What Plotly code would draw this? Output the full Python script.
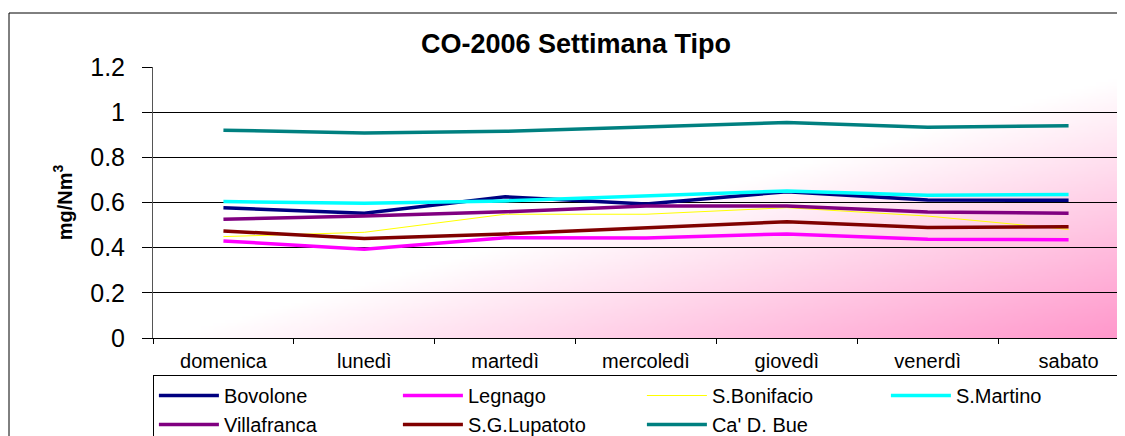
import base64, struct, zlib
import plotly.graph_objects as go

days = ["domenica", "lunedì", "martedì", "mercoledì", "giovedì", "venerdì", "sabato"]
bovolone = [0.577, 0.552, 0.625, 0.593, 0.648, 0.611, 0.610]
legnago = [0.430, 0.393, 0.444, 0.443, 0.461, 0.437, 0.435]
s_bonifacio = [0.449, 0.468, 0.548, 0.548, 0.577, 0.540, 0.481]
s_martino = [0.604, 0.597, 0.607, 0.630, 0.651, 0.632, 0.635]
villafranca = [0.526, 0.540, 0.559, 0.585, 0.585, 0.558, 0.552]
s_g_lupatoto = [0.474, 0.441, 0.461, 0.489, 0.515, 0.489, 0.493]
ca_d_bue = [0.920, 0.908, 0.915, 0.933, 0.954, 0.933, 0.940]

series = [
    ("Bovolone", bovolone, "#000080", 3.5),
    ("Legnago", legnago, "#FF00FF", 3.5),
    ("S.Bonifacio", s_bonifacio, "#FFFF00", 1),
    ("S.Martino", s_martino, "#00FFFF", 3.5),
    ("Villafranca", villafranca, "#800080", 3.5),
    ("S.G.Lupatoto", s_g_lupatoto, "#800000", 3.5),
    ("Ca' D. Bue", ca_d_bue, "#008080", 3.5),
]


def gradient_png(w=240, h=80):
    pink = (255, 153, 204)
    rows = []
    for j in range(h):
        v = j / (h - 1)
        row = bytearray([0])
        for i in range(w):
            u = i / (w - 1)
            t = max(0.0, min(1.0, (u + v - 1.02) / 0.95))
            r = round(255 + (pink[0] - 255) * t)
            g = round(255 + (pink[1] - 255) * t)
            b = round(255 + (pink[2] - 255) * t)
            row += bytes((r, g, b))
        rows.append(bytes(row))
    raw = b"".join(rows)

    def chunk(tag, data):
        c = struct.pack(">I", len(data)) + tag + data
        return c + struct.pack(">I", zlib.crc32(tag + data) & 0xFFFFFFFF)

    png = b"\x89PNG\r\n\x1a\n"
    png += chunk(b"IHDR", struct.pack(">IIBBBBB", w, h, 8, 2, 0, 0, 0))
    png += chunk(b"IDAT", zlib.compress(raw, 9))
    png += chunk(b"IEND", b"")
    return "data:image/png;base64," + base64.b64encode(png).decode()


fig = go.Figure()
for name, vals, color, width in series:
    fig.add_trace(go.Scatter(
        x=days, y=vals, name=name, mode="lines",
        line=dict(color=color, width=width),
    ))

# the page body adds an 8px offset; the figure is sized to fill the window
OFF = 8
W, H = 1125 - OFF, 436 - OFF
ml, mt = 153 - OFF, 67 - OFF
plot_bottom = 338 - OFF
mb = H - plot_bottom
pw = W - ml
ph = plot_bottom - mt
full_w = 986  # plot area extends beyond the cropped picture

fig.update_layout(
    width=W, height=H,
    margin=dict(l=ml, r=0, t=mt, b=mb, autoexpand=False),
    paper_bgcolor="white",
    plot_bgcolor="white",
    font=dict(family="Arial, Liberation Sans, sans-serif", color="black"),
    title=dict(
        text="<b>CO-2006 Settimana Tipo</b>",
        font=dict(size=27, color="black"),
        x=(576 - OFF) / W, xanchor="center",
        y=1 - (44 - OFF) / H, yanchor="middle",
    ),
    showlegend=True,
    legend=dict(
        orientation="h",
        x=-0.0001, xanchor="left",
        y=(338 - 375) / ph, yanchor="top",
        bgcolor="white",
        bordercolor="black", borderwidth=1,
        font=dict(size=20, color="black"),
        itemwidth=60,
        entrywidth=169, entrywidthmode="pixels",
        traceorder="normal",
        tracegroupgap=0,
    ),
    images=[dict(
        source=gradient_png(),
        xref="paper", yref="paper",
        x=0, y=1, sizex=full_w / pw, sizey=1,
        xanchor="left", yanchor="top",
        sizing="stretch", layer="below",
    )],
    shapes=[dict(
        type="rect", xref="paper", yref="paper",
        x0=(9 - 153) / pw, x1=1.2,
        y0=-0.6, y1=(338 - 13) / ph,
        line=dict(color="black", width=1),
        fillcolor="rgba(0,0,0,0)", layer="below",
    )],
)

fig.update_xaxes(
    type="category",
    range=[-0.5, -0.5 + 7 * pw / full_w],
    showgrid=False,
    showline=True, linecolor="black", linewidth=1,
    ticks="outside", tickson="boundaries", ticklen=5, tickcolor="black",
    tickfont=dict(size=20, color="black"),
    ticklabelstandoff=5,
)
fig.update_yaxes(
    range=[0, 1.2],
    tickvals=[0, 0.2, 0.4, 0.6, 0.8, 1, 1.2],
    ticktext=["0", "0.2", "0.4", "0.6", "0.8", "1", "1.2"],
    showgrid=True, gridcolor="black", gridwidth=1,
    showline=True, linecolor="#555555", linewidth=1,
    ticks="outside", ticklen=10, tickcolor="black",
    tickfont=dict(size=25, color="black"),
    ticklabelstandoff=12,
    zeroline=False,
    title=dict(text="<b>mg/Nm<sup>3</sup></b>", font=dict(size=20, color="black"), standoff=12),
)

fig.write_html("out.html")
